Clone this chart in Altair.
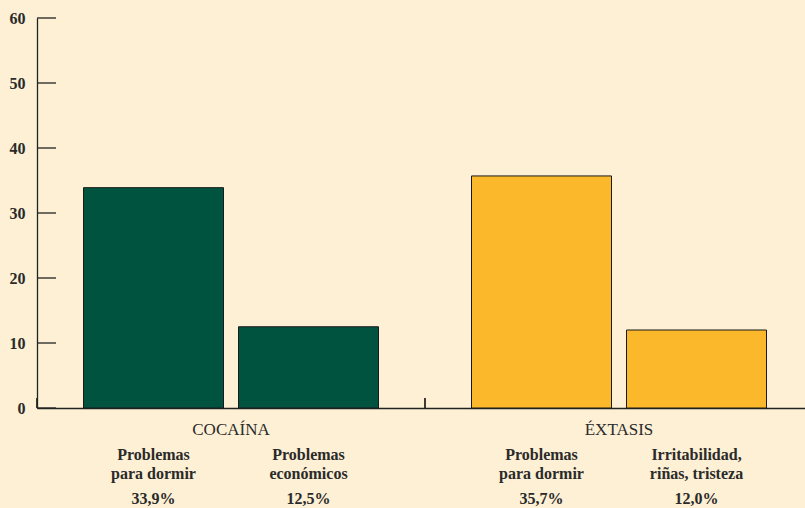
import altair as alt
import pandas as pd

# Grupos de consumo y problema asociado
grupos = ["COCAÍNA", "COCAÍNA", "ÉXTASIS", "ÉXTASIS"]
problemas = [
    "Problemas\npara dormir",
    "Problemas\neconómicos",
    "Problemas\npara dormir",
    "Irritabilidad,\nriñas, tristeza",
]
porcentajes = [33.9, 12.5, 35.7, 12.0]

orden_grupos = ["COCAÍNA", "ÉXTASIS"]
colores_grupos = ["#00533f", "#fbb82b"]
marcas_eje_y = [0, 10, 20, 30, 40, 50, 60]

FONDO = "#fdf0d4"
TINTA = "#2a2a2a"
LINEA = "#222222"
FUENTE = "Liberation Serif"

datos = pd.DataFrame({"grupo": grupos, "problema": problemas, "valor": porcentajes})
marcas = pd.DataFrame({"valor": marcas_eje_y})

x_grupo = alt.X(
    "grupo:N",
    sort=orden_grupos,
    scale=alt.Scale(range=[0, 776], paddingInner=0, paddingOuter=0),
    axis=alt.Axis(
        title=None,
        labelAngle=0,
        ticks=False,
        tickSize=0,
        labelPadding=13,
        labelFont=FUENTE,
        labelFontSize=17,
        labelColor=TINTA,
        domainColor=LINEA,
        domainWidth=1.3,
        domainCap="butt",
    ),
)
x_orden = alt.XOffset(
    "orden:O", scale=alt.Scale(paddingInner=15 / 155, paddingOuter=0.3)
)
eje_y = alt.Y(
    "valor:Q",
    scale=alt.Scale(domain=[0, 60], nice=False),
    axis=alt.Axis(
        title=None,
        values=marcas_eje_y,
        ticks=False,
        tickSize=0,
        grid=False,
        labelPadding=12,
        labelFont=FUENTE,
        labelFontSize=16,
        labelFontWeight="bold",
        labelColor=TINTA,
        domainColor=LINEA,
        domainWidth=1.3,
    ),
)

base = alt.Chart(datos).transform_window(
    orden="row_number()", groupby=["grupo"]
).transform_calculate(
    etiqueta="replace(format(datum.valor, '.1f'), '.', ',') + '%'"
)

barras = base.mark_bar(stroke="#1a1a1a", strokeWidth=1).encode(
    x=x_grupo,
    xOffset=x_orden,
    y=eje_y,
    color=alt.Color(
        "grupo:N",
        scale=alt.Scale(domain=orden_grupos, range=colores_grupos),
        legend=None,
    ),
)

nombres = base.mark_text(
    font=FUENTE,
    fontSize=16,
    fontWeight="bold",
    color=TINTA,
    lineBreak="\n",
    lineHeight=19,
    baseline="alphabetic",
    align="center",
).encode(x=x_grupo, xOffset=x_orden, y=alt.value(442), text="problema:N")

cifras = base.mark_text(
    font=FUENTE,
    fontSize=16,
    fontWeight="bold",
    color=TINTA,
    baseline="alphabetic",
    align="center",
).encode(x=x_grupo, xOffset=x_orden, y=alt.value(486), text="etiqueta:N")

# marcas cortas del eje Y, hacia dentro del gráfico
marcas_y = alt.Chart(marcas).mark_rule(color=LINEA, strokeWidth=1.3).encode(
    y=eje_y,
    x=alt.value(0),
    x2=alt.value(19),
)

# separador entre grupos sobre el eje X
separador = alt.Chart(datos).mark_rule(color=LINEA, strokeWidth=1.3).encode(
    x=alt.X("grupo:N", sort=orden_grupos, bandPosition=0),
    y=alt.value(380),
    y2=alt.value(390),
)

chart = (
    alt.layer(barras, marcas_y, separador, nombres, cifras)
    .properties(
        width=768,
        height=390,
        autosize=alt.AutoSizeParams(type="none"),
        padding={"left": 37, "top": 18, "right": 0, "bottom": 100},
        background=FONDO,
    )
    .configure_view(stroke=None)
)

chart.save("out.html", embed_options={"renderer": "svg", "actions": False})
